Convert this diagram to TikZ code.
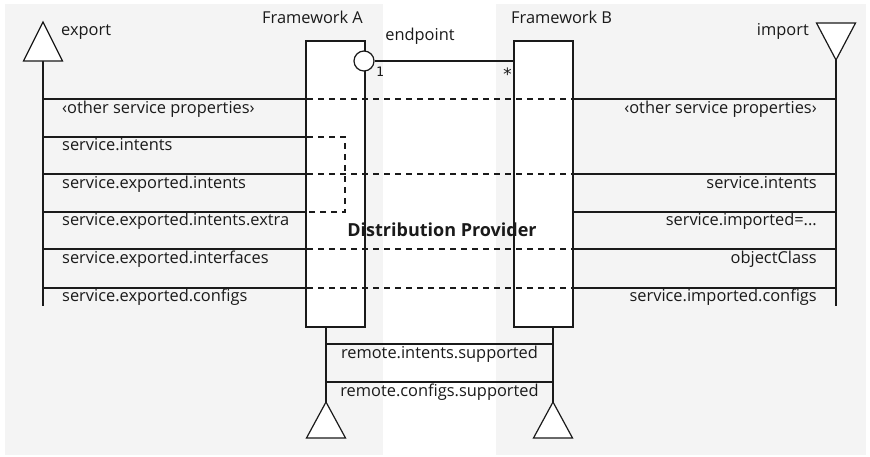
\documentclass[tikz,border=0pt]{standalone}
\usepackage{fontspec}
\setmainfont{Open Sans}
\newfontfamily\monofont{DejaVu Sans Mono}
\definecolor{panel}{HTML}{F4F4F4}
\definecolor{ink}{HTML}{1A1A1A}
\tikzset{
  panelbg/.style={fill=panel, draw=none},
  box/.style={draw=ink, line width=2pt, fill=white},
  conn/.style={draw=ink, line width=2pt},
  dconn/.style={draw=ink, line width=2pt, dash pattern=on 6pt off 5pt},
  tri/.style={draw=ink, line width=1.2pt, fill=white, line join=miter},
  lbl/.style={inner sep=0pt, text=ink, font=\fontsize{16.4}{18}\selectfont},
  llbl/.style={lbl, anchor=base west},
  rlbl/.style={lbl, anchor=base east},
  clbl/.style={lbl, anchor=base},
  mult/.style={inner sep=0pt, text=ink, font=\monofont\fontsize{13}{15}\selectfont, anchor=base}
}
\begin{document}
\begin{tikzpicture}[x=1pt, y=-1pt]
\useasboundingbox (0,0) rectangle (870,456);
% panels
\fill[panelbg] (5,4) rectangle (383,455);
\fill[panelbg] (496,4) rectangle (866,455);

% boxes (fill)
\node[box, draw=none, minimum width=57pt, minimum height=284pt, inner sep=0pt] (boxA) at (335.5,184) {};
\node[box, draw=none, minimum width=57pt, minimum height=284pt, inner sep=0pt] (boxB) at (543.5,184) {};

% export side
\coordinate (expTop) at (43,61);
\coordinate (expBot) at (43,306);
\draw[conn] (expTop) -- (expBot);
\draw[tri] (43,22) -- (62.5,61) -- (23.5,61) -- cycle;
\node[llbl] (exportlbl) at (61,35) {export};

% import side
\coordinate (impTop) at (836,60);
\coordinate (impBot) at (836,306);
\draw[conn] (impTop) -- (impBot);
\draw[tri] (836,60) -- (855.5,23) -- (816.5,23) -- cycle;
\node[rlbl] (importlbl) at (809,35) {import};

% left property lines
\foreach \y/\n in {99/a,137/b,174/c,212/d,249/e,288/f}{
  \coordinate (L\n) at (43,\y);
  \coordinate (A\n) at (307,\y);
  \draw[conn] (L\n) -- (A\n);
}
% right property lines
\foreach \y/\n in {99/a,174/c,212/d,249/e,288/f}{
  \coordinate (B\n) at (572,\y);
  \coordinate (R\n) at (836,\y);
  \draw[conn] (B\n) -- (R\n);
}
% dashed mappings
\draw[dconn] (Aa) -- (Ba);
\draw[dconn] (Ac) -- (Bc);
\draw[dconn] (Ae) -- (Be);
\draw[dconn] (Af) -- (Bf);
\coordinate (Kb) at (345,137);
\coordinate (Kd) at (345,212);
\draw[dconn] (Ab) -- (Kb) -- (Kd) -- (Ad);

% left labels
\node[llbl] (t1) at (62,113) {‹other service properties›};
\node[llbl] (t2) at (62,150) {service.intents};
\node[llbl] (t3) at (62,188) {service.exported.intents};
\node[llbl] (t4) at (62,225) {service.exported.intents.extra};
\node[llbl] (t5) at (62,263) {service.exported.interfaces};
\node[llbl] (t6) at (62,301) {service.exported.configs};
% right labels
\node[rlbl] (r1) at (817,113) {‹other service properties›};
\node[rlbl] (r3) at (817,188) {service.intents};
\node[rlbl] (r4) at (817,225) {service.imported=...};
\node[rlbl] (r5) at (817,263) {objectClass};
\node[rlbl] (r6) at (817,301) {service.imported.configs};

% framework titles
\node[llbl] (fwA) at (262,23) {Framework A};
\node[llbl] (fwB) at (511,23) {Framework B};

% distribution provider
\node[clbl, font=\bfseries\fontsize{18}{20}\selectfont] (dp) at (442,236) {Distribution Provider};

% box outlines
\draw[conn] (boxA.south west) rectangle (boxA.north east);
\draw[conn] (boxB.south west) rectangle (boxB.north east);

% endpoint
\node[circle, draw=ink, line width=1.2pt, fill=white, minimum size=20pt, inner sep=0pt] (ep) at (364,61) {};
\coordinate (epB) at (515,61);
\draw[conn] (ep.east) -- (epB);
\node[clbl] (eplbl) at (420,40) {endpoint};
\node[mult] (m1) at (380,76) {1};
\node[mult, font=\monofont\fontsize{17}{19}\selectfont] (m2) at (507.5,80) {*};

% bottom
\coordinate (bA) at (326,326);
\coordinate (bAt) at (326,402);
\coordinate (bB) at (553,326);
\coordinate (bBt) at (553,402);
\draw[conn] (bA) -- (bAt);
\draw[conn] (bB) -- (bBt);
\draw[tri] (326,402) -- (345.5,438) -- (306.5,438) -- cycle;
\draw[tri] (553,402) -- (572.5,438) -- (533.5,438) -- cycle;
\coordinate (h1a) at (326,344);
\coordinate (h1b) at (553,344);
\coordinate (h2a) at (326,382);
\coordinate (h2b) at (553,382);
\draw[conn] (h1a) -- (h1b);
\draw[conn] (h2a) -- (h2b);
\node[clbl] (rs1) at (439.5,358) {remote.intents.supported};
\node[clbl] (rs2) at (439.5,396) {remote.configs.supported};
\end{tikzpicture}
\end{document}
